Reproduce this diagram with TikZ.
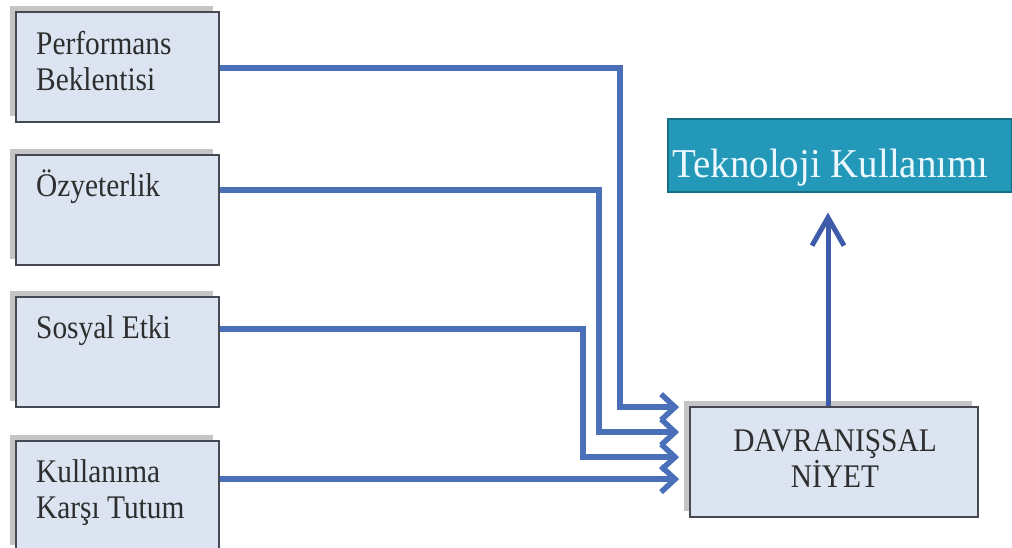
\documentclass[tikz,border=0pt]{standalone}
\usepackage{fontspec}
\setmainfont{Liberation Serif}
\usetikzlibrary{arrows.meta,shadows}

\definecolor{boxfill}{RGB}{220,228,242}
\definecolor{boxline}{RGB}{70,72,82}
\definecolor{linkblue}{RGB}{74,112,186}
\definecolor{upblue}{RGB}{62,92,170}
\definecolor{tealfill}{RGB}{36,152,184}
\definecolor{tealline}{RGB}{24,110,135}

\tikzset{
  srcbox/.style={draw=boxline, line width=1.8pt, fill=boxfill,
    minimum width=203pt, minimum height=110pt, inner sep=0pt,
    drop shadow={shadow xshift=-6pt, shadow yshift=6pt, fill=black!45, opacity=.5}},
  srctext/.style={anchor=base west, align=left, inner sep=0pt, xscale=.89,
    font=\fontsize{33}{36}\selectfont, text=black!82},
  link/.style={draw=linkblue, line width=5.5pt,
    -{Straight Barb[length=14pt,width=26pt]}, shorten >=10pt},
  uplink/.style={draw=upblue, line width=5pt,
    -{Straight Barb[length=28pt,width=32pt]}, shorten >=20pt}
}

\begin{document}
\begin{tikzpicture}[x=1pt, y=-1pt]
  \useasboundingbox (0,0) rectangle (1012,548);

  % the four input boxes
  \node[srcbox] (pb) at (117.5,67) {};
  \node[srcbox] (oz) at (117.5,210) {};
  \node[srcbox] (se) at (117.5,352) {};
  \node[srcbox] (kt) at (117.5,496) {};
  % two-line labels sit on their last line
  \node[srctext] (pbt) at (36,91) {Performans\\Beklentisi};
  \node[srctext] (ozt) at (36,197) {Özyeterlik};
  \node[srctext] (set) at (36,338) {Sosyal Etki};
  \node[srctext] (ktt) at (36,518) {Kullanıma\\Karşı Tutum};

  % intention and usage
  \node[srcbox, minimum width=288pt] (dn) at (834,462) {};
  \node[srctext, anchor=base, align=center] (dnt) at (835,487) {DAVRANIŞSAL\\NİYET};
  \node[draw=tealline, line width=1.2pt, fill=tealfill,
    minimum width=344pt, minimum height=73pt] (tk) at (840,155.5) {};
  \node[anchor=base west, inner sep=0pt, xscale=.95,
    font=\fontsize{41}{44}\selectfont, text=white!92!cyan] (tkt) at (672,178) {Teknoloji Kullanımı};

  % vertical runs of the links
  \coordinate (v1) at (620,0);
  \coordinate (v2) at (599,0);
  \coordinate (v3) at (583,0);
  \coordinate (t1) at ([yshift=-1pt]dn.north west);
  \coordinate (t2) at ([yshift=-26pt]dn.north west);
  \coordinate (t3) at ([yshift=-51pt]dn.north west);
  \coordinate (t4) at ([yshift=-73pt]dn.north west);

  \draw[link] ([yshift=-1pt]pb.east) -| (v1 |- t1) -- (t1);
  \draw[link] ([yshift=20pt]oz.east) -| (v2 |- t2) -- (t2);
  \draw[link] ([yshift=23pt]se.east) -| (v3 |- t3) -- (t3);
  \draw[link] (kt.east |- t4) -- (t4);

  \draw[uplink] ([xshift=-6pt]dn.north) -- ([xshift=-6pt]dn.north |- tk.south);
\end{tikzpicture}
\end{document}
